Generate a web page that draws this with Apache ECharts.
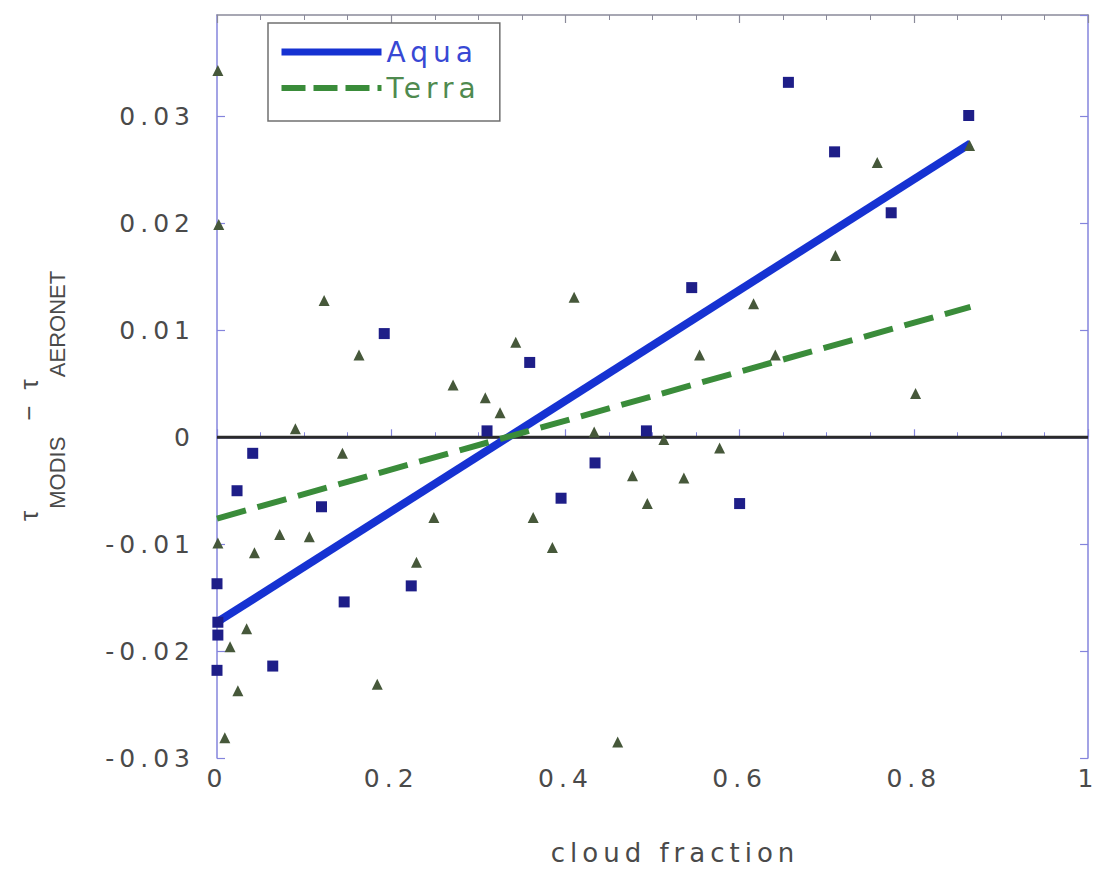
<!DOCTYPE html>
<html>
<head>
<meta charset="utf-8">
<script src="https://cdn.jsdelivr.net/npm/echarts@6/dist/echarts.min.js"></script>
<style>
  html, body { margin: 0; padding: 0; background: #ffffff; }
  #chart { width: 1099px; height: 871px; }
  /* wide, loosely set lettering for tick labels, legend and x title */
  #chart text[style*="DejaVu"] { letter-spacing: 5px; }
</style>
</head>
<body>
<div id="chart"></div>
<script>
// ---- data ----
const xTickLabels = ['0', '0.2', '0.4', '0.6', '0.8', '1'];
const yTickLabels = ['-0.03', '-0.02', '-0.01', '0', '0.01', '0.02', '0.03'];

// [cloud fraction, tau difference]
const aquaPoints = [
  [0.656, 0.0332], [0.863, 0.0301], [0.709, 0.0267], [0.774, 0.0210],
  [0.545, 0.0140], [0.192, 0.0097], [0.359, 0.0070], [0.310, 0.0006],
  [0.493, 0.0006], [0.041, -0.0015], [0.434, -0.0024], [0.023, -0.0050],
  [0.120, -0.0065], [0.395, -0.0057], [0.600, -0.0062], [0.000, -0.0137],
  [0.223, -0.0139], [0.146, -0.0154], [0.001, -0.0173], [0.001, -0.0185],
  [0.064, -0.0214], [0.000, -0.0218]
];

const terraPoints = [
  [0.001, 0.0343], [0.002, 0.0199], [0.123, 0.0128], [0.163, 0.0077],
  [0.271, 0.0049], [0.308, 0.0037], [0.325, 0.0023], [0.090, 0.0008],
  [0.343, 0.0089], [0.410, 0.0131], [0.616, 0.0125], [0.554, 0.0077],
  [0.641, 0.0077], [0.758, 0.0257], [0.864, 0.0273], [0.710, 0.0170],
  [0.802, 0.0041], [0.433, 0.0005], [0.513, -0.0002], [0.577, -0.0010],
  [0.477, -0.0036], [0.536, -0.0038], [0.494, -0.0062], [0.363, -0.0075],
  [0.385, -0.0103], [0.460, -0.0285], [0.144, -0.0015], [0.249, -0.0075],
  [0.001, -0.0099], [0.072, -0.0091], [0.106, -0.0093], [0.043, -0.0108],
  [0.229, -0.0117], [0.034, -0.0179], [0.015, -0.0196], [0.024, -0.0237],
  [0.184, -0.0231], [0.009, -0.0281]
];

// least-squares fit lines (end points)
const aquaFit = [[0, -0.0173], [0.865, 0.0275]];
const terraFit = [[0, -0.0076], [0.865, 0.0122]];
const zeroLine = [[0, 0], [1, 0]];

// ---- styling ----
const LABEL_FONT = 'DejaVu Sans';
const TEXT_GRAY = '#4a4a4a';
const AXIS_BLUE = '#8484dc';
const AQUA = '#1632d2';
const TERRA = '#3a8c3a';

function fmt(v) { return String(+v.toFixed(2)); }

const chart = echarts.init(document.getElementById('chart'), null, { renderer: 'svg' });

const tickIn = (color, len) => ({ show: true, inside: true, length: len, lineStyle: { color: color, width: 1.2 } });

chart.setOption({
  animation: false,
  backgroundColor: '#ffffff',
  grid: { left: 217, right: 4, top: 15, bottom: 113, containLabel: false },
  xAxis: [
    {
      type: 'value', min: 0, max: 1, interval: 0.2, position: 'bottom',
      axisLine: { show: true, lineStyle: { color: AXIS_BLUE, width: 1.5 } },
      axisTick: tickIn(AXIS_BLUE, 8),
      minorTick: { show: true, splitNumber: 4, length: 5, lineStyle: { color: AXIS_BLUE, width: 1 } },
      splitLine: { show: false },
      axisLabel: {
        color: TEXT_GRAY, fontFamily: LABEL_FONT, fontSize: 25, margin: 8,
        formatter: v => xTickLabels.includes(fmt(v)) ? fmt(v) : ''
      }
    },
    {
      type: 'value', min: 0, max: 1, interval: 0.2, position: 'top',
      axisLine: { show: true, onZero: false, lineStyle: { color: '#8a8a9a', width: 1.5 } },
      axisTick: tickIn('#8a8a9a', 8),
      minorTick: { show: true, splitNumber: 4, length: 5, lineStyle: { color: '#8a8a9a', width: 1 } },
      splitLine: { show: false },
      axisLabel: { show: false }
    }
  ],
  yAxis: [
    {
      type: 'value', min: -0.03, max: 0.0395, interval: 0.01, position: 'left',
      axisLine: { show: true, onZero: false, lineStyle: { color: AXIS_BLUE, width: 1.5 } },
      axisTick: tickIn(AXIS_BLUE, 8),
      splitLine: { show: false },
      axisLabel: {
        color: TEXT_GRAY, fontFamily: LABEL_FONT, fontSize: 25, margin: 22,
        showMaxLabel: false,
        formatter: v => yTickLabels.includes(fmt(v)) ? fmt(v) : ''
      }
    },
    {
      type: 'value', min: -0.03, max: 0.0395, interval: 0.01, position: 'right',
      axisLine: { show: true, onZero: false, lineStyle: { color: AXIS_BLUE, width: 1.5 } },
      axisTick: tickIn(AXIS_BLUE, 8),
      splitLine: { show: false },
      axisLabel: { show: false }
    }
  ],
  legend: {
    left: 268, top: 23, orient: 'vertical',
    backgroundColor: '#ffffff', borderColor: '#707070', borderWidth: 1.5,
    padding: [15, 42, 19, 10],
    itemWidth: 100, itemHeight: 14, itemGap: 8,
    itemStyle: { opacity: 0 },
    textStyle: { fontFamily: LABEL_FONT, fontSize: 28, lineHeight: 28 },
    data: [
      { name: 'Aqua', textStyle: { color: '#3848d4' }, lineStyle: { width: 7 } },
      { name: 'Terra', textStyle: { color: '#4f8a4f' }, lineStyle: { width: 6, type: [24, 8] } }
    ],
    z: 10
  },
  series: [
    {
      name: 'zero', type: 'line', data: zeroLine, symbol: 'none', silent: true,
      lineStyle: { color: '#2a2a2a', width: 3 }, z: 1
    },
    {
      name: 'Aqua', type: 'line', data: aquaFit, symbol: 'none',
      lineStyle: { color: AQUA, width: 8 }, itemStyle: { color: AQUA }, z: 2
    },
    {
      name: 'Terra', type: 'line', data: terraFit, symbol: 'none',
      lineStyle: { color: TERRA, width: 6, type: [30, 12] }, itemStyle: { color: TERRA }, z: 2
    },
    {
      name: 'Aqua points', type: 'scatter', data: aquaPoints, symbol: 'rect', symbolSize: 11,
      itemStyle: { color: '#1e1e88', opacity: 1 }, z: 3
    },
    {
      name: 'Terra points', type: 'scatter', data: terraPoints, symbol: 'triangle', symbolSize: 11,
      itemStyle: { color: '#46583a', opacity: 1 }, z: 3
    }
  ],
  graphic: [
    {
      type: 'text', x: 675, y: 853,
      style: {
        text: 'cloud fraction', fill: TEXT_GRAY,
        font: '26px "DejaVu Sans"', textAlign: 'center', textVerticalAlign: 'middle'
      }
    },
    {
      type: 'text', x: 16, y: 521, rotation: Math.PI / 2,
      style: {
        text: '{t|τ}{s|MODIS}{m|−}{t|τ}{s|AERONET}',
        textAlign: 'left', textVerticalAlign: 'top',
        fill: TEXT_GRAY,
        rich: {
          t: { fontFamily: 'Liberation Sans', fontSize: 26, lineHeight: 26, verticalAlign: 'top', color: TEXT_GRAY },
          s: { fontFamily: 'Liberation Sans', fontSize: 22, lineHeight: 22, verticalAlign: 'top', padding: [30, 0, 0, 2], color: TEXT_GRAY },
          m: { fontFamily: 'Liberation Sans', fontSize: 26, lineHeight: 18, verticalAlign: 'top', padding: [0, 16, 0, 16], color: TEXT_GRAY }
        }
      }
    }
  ]
});
</script>
</body>
</html>
